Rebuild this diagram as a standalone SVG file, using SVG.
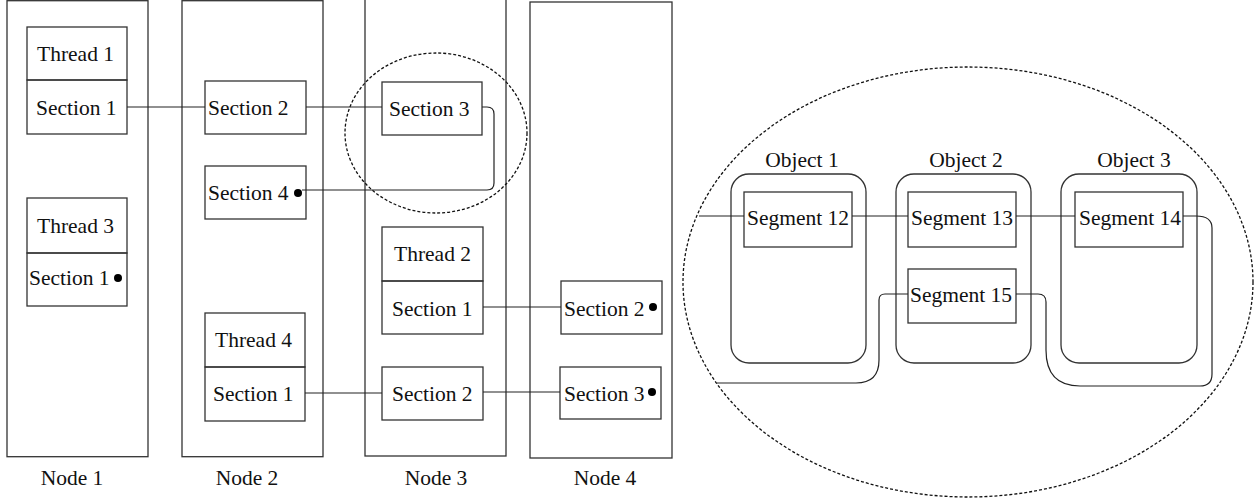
<svg xmlns="http://www.w3.org/2000/svg" width="1256" height="501" viewBox="0 0 1256 501">
<style>
.box{fill:none;stroke:#333;stroke-width:1.3}
.ln{fill:none;stroke:#222;stroke-width:1.2}
.dash{fill:none;stroke:#111;stroke-width:1.3;stroke-dasharray:3,2}
text{font-family:"Liberation Serif","Times New Roman",serif;font-size:21.5px;fill:#111}
.dot{fill:#000}
</style>
<rect width="1256" height="501" fill="#fff"/>
<g id="node1">
<rect class="box" x="7" y="0.7" width="141" height="456"/>
<text x="72" y="485" text-anchor="middle">Node 1</text>
</g>
<g id="node2">
<rect class="box" x="182" y="0.7" width="141" height="456"/>
<text x="247" y="485" text-anchor="middle">Node 2</text>
</g>
<g id="node3">
<rect class="box" x="365" y="-2" width="141" height="458"/>
<text x="436" y="485" text-anchor="middle">Node 3</text>
</g>
<g id="node4">
<rect class="box" x="530" y="2" width="142" height="456"/>
<text x="605" y="485" text-anchor="middle">Node 4</text>
</g>
<g id="thread1">
<rect class="box" x="27" y="27" width="100" height="53"/>
<text x="37" y="61">Thread 1</text>
</g>
<g id="n1-section1">
<rect class="box" x="27" y="80" width="100" height="54"/>
<text x="36" y="115">Section 1</text>
</g>
<g id="thread3">
<rect class="box" x="27" y="198" width="100" height="55"/>
<text x="37" y="233">Thread 3</text>
</g>
<g id="n1-section1b">
<rect class="box" x="27" y="253" width="100" height="53"/>
<text x="29" y="285">Section 1</text>
<circle class="dot" cx="118" cy="278" r="4"/>
</g>
<g id="n2-section2">
<rect class="box" x="205" y="81" width="101" height="53"/>
<text x="208" y="115">Section 2</text>
</g>
<g id="n2-section4">
<rect class="box" x="205" y="166" width="101" height="53"/>
<text x="208" y="200">Section 4</text>
<circle class="dot" cx="298" cy="193" r="4"/>
</g>
<g id="thread4">
<rect class="box" x="205" y="313" width="100" height="54"/>
<text x="215" y="347">Thread 4</text>
</g>
<g id="n2-section1">
<rect class="box" x="205" y="367" width="100" height="54"/>
<text x="213" y="401">Section 1</text>
</g>
<g id="n3-section3">
<rect class="box" x="382" y="82" width="100" height="53"/>
<text x="389" y="116">Section 3</text>
</g>
<g id="thread2">
<rect class="box" x="382" y="227" width="101" height="54"/>
<text x="394" y="261">Thread 2</text>
</g>
<g id="n3-section1">
<rect class="box" x="382" y="281" width="101" height="53"/>
<text x="392" y="316">Section 1</text>
</g>
<g id="n3-section2">
<rect class="box" x="382" y="367" width="101" height="53"/>
<text x="392" y="401">Section 2</text>
</g>
<g id="n4-section2">
<rect class="box" x="561" y="281" width="101" height="53"/>
<text x="564" y="316">Section 2</text>
<circle class="dot" cx="653" cy="307" r="4"/>
</g>
<g id="n4-section3">
<rect class="box" x="560" y="367" width="101" height="52"/>
<text x="564" y="401">Section 3</text>
<circle class="dot" cx="652" cy="392" r="4"/>
</g>
<g id="highlight">
<ellipse class="dash" cx="436" cy="133" rx="91" ry="80"/>
<ellipse class="dash" cx="968" cy="282" rx="285" ry="215"/>
</g>
<g id="object1">
<rect class="box" x="731" y="174" width="135" height="189" rx="18"/>
<text x="802" y="167" text-anchor="middle">Object 1</text>
</g>
<g id="object2">
<rect class="box" x="896" y="174" width="135" height="189" rx="18"/>
<text x="966" y="167" text-anchor="middle">Object 2</text>
</g>
<g id="object3">
<rect class="box" x="1061" y="174" width="136" height="189" rx="18"/>
<text x="1134" y="167" text-anchor="middle">Object 3</text>
</g>
<g id="segment12">
<rect class="box" x="744" y="192" width="108" height="55"/>
<text x="747" y="225">Segment 12</text>
</g>
<g id="segment13">
<rect class="box" x="908" y="192" width="108" height="55"/>
<text x="911" y="225">Segment 13</text>
</g>
<g id="segment14">
<rect class="box" x="1075" y="192" width="108" height="55"/>
<text x="1079" y="225">Segment 14</text>
</g>
<g id="segment15">
<rect class="box" x="908" y="269" width="108" height="54"/>
<text x="910" y="302">Segment 15</text>
</g>
<g id="connectors">
<line class="ln" x1="127" y1="107" x2="205" y2="107"/>
<line class="ln" x1="306" y1="107" x2="382" y2="107"/>
<path class="ln" d="M482,107 H487 Q494,107 494,114 V183 Q494,190 487,190 H302"/>
<line class="ln" x1="483" y1="307" x2="561" y2="307"/>
<line class="ln" x1="305" y1="393" x2="382" y2="393"/>
<line class="ln" x1="483" y1="392" x2="560" y2="392"/>
<line class="ln" x1="699" y1="216" x2="744" y2="216"/>
<line class="ln" x1="852" y1="216" x2="908" y2="216"/>
<line class="ln" x1="1016" y1="216" x2="1075" y2="216"/>
<path class="ln" d="M1016,294 H1038 Q1046,294 1046,302 V350 Q1046,386 1080,386 H1200 Q1212,386 1212,374 V228 Q1212,216 1196,216 H1183"/>
<path class="ln" d="M908,294 H885 Q879,294 879,300 V360 Q879,383 856,383 H717"/>
</g>
</svg>
